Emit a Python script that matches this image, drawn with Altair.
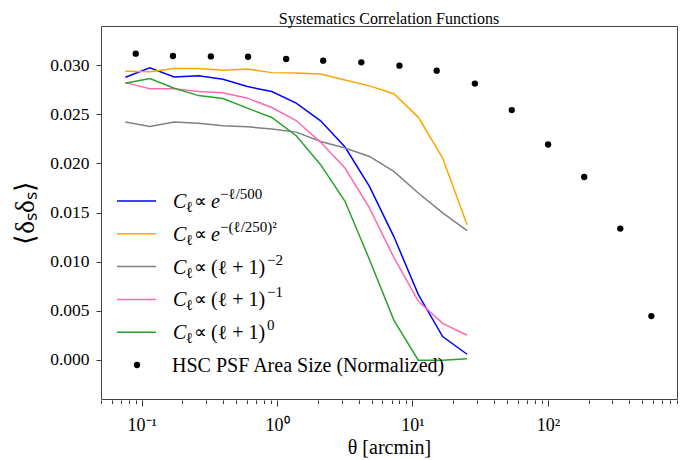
import altair as alt
import pandas as pd

# ---------------- data ----------------
theta_lines = [0.0757, 0.1147, 0.1737, 0.2630, 0.3984, 0.6033, 0.9138, 1.384,
               2.096, 3.175, 4.808, 7.284, 11.03, 16.71, 25.31]

series_keys = ["exp500", "gauss250", "pow2", "pow1", "pow0"]
series_colors = ["#0000ff", "#ffa500", "#808080", "#ff69b4", "#2ca02c"]

exp500 = [0.02878, 0.02973, 0.02881, 0.02894, 0.02858, 0.02783, 0.02732, 0.02614,
          0.02434, 0.02167, 0.01766, 0.01255, 0.00666, 0.00236, 0.00056]
gauss250 = [0.02940, 0.02935, 0.02966, 0.02966, 0.02950, 0.02962, 0.02925, 0.02922,
            0.02910, 0.02850, 0.02790, 0.02710, 0.02472, 0.02055, 0.01376]
pow2 = [0.02421, 0.02376, 0.02421, 0.02410, 0.02383, 0.02373, 0.02350, 0.02319,
        0.02224, 0.02157, 0.02071, 0.01919, 0.01699, 0.01496, 0.01316]
pow1 = [0.02823, 0.02762, 0.02762, 0.02732, 0.02719, 0.02665, 0.02570, 0.02437,
        0.02215, 0.01953, 0.01547, 0.01042, 0.00598, 0.00371, 0.00249]
pow0 = [0.02817, 0.02864, 0.02766, 0.02691, 0.02661, 0.02563, 0.02468, 0.02282,
        0.01987, 0.01614, 0.01021, 0.00404, -0.00005, -0.00005, 0.00010]
series_values = [exp500, gauss250, pow2, pow1, pow0]

theta_psf = [0.0903, 0.170, 0.324, 0.610, 1.166, 2.19, 4.19, 8.01, 15.1, 28.9,
             54.1, 100.5, 185.7, 343.0, 582.0]
psf_area = [0.03118, 0.03094, 0.03090, 0.03087, 0.03064, 0.03047, 0.03030, 0.02996,
            0.02945, 0.02813, 0.02543, 0.02193, 0.01862, 0.01336, 0.00445]

title_text = "Systematics Correlation Functions"
x_title = "θ [arcmin]"
y_title = "⟨δₛδₛ⟩"
major_ticks = [0.1, 1, 10, 100]
major_labels = ["10⁻¹", "10⁰", "10¹", "10²"]
minor_ticks = [0.05, 0.06, 0.07, 0.08, 0.09,
               0.2, 0.3, 0.4, 0.5, 0.6, 0.7, 0.8, 0.9,
               2, 3, 4, 5, 6, 7, 8, 9,
               20, 30, 40, 50, 60, 70, 80, 90,
               200, 300, 400, 500, 600, 700, 800, 900]
y_ticks = [0.0, 0.005, 0.010, 0.015, 0.020, 0.025, 0.030]

# legend label pieces: (base text, superscript text)
legend_base = ["e", "e", "(ℓ + 1)", "(ℓ + 1)", "(ℓ + 1)"]
legend_sup = ["−ℓ/500", "−(ℓ/250)²", "−2", "−1", "0"]
psf_label = "HSC PSF Area Size (Normalized)"

# ---------------- build tables ----------------
rows = []
for k, vals in zip(series_keys, series_values):
    for t, v in zip(theta_lines, vals):
        rows.append({"theta": t, "value": v, "series": k})
lines_df = pd.DataFrame(rows)
psf_df = pd.DataFrame({"theta": theta_psf, "value": psf_area})

W, H = 576, 373
SERIF = "Liberation Serif"
xscale = alt.Scale(type="log", domain=[0.05, 900], nice=False)
yscale = alt.Scale(domain=[-0.004, 0.034], nice=False, zero=False)

label_expr = "[" + ",".join("'" + s + "'" for s in major_labels) + "][round(log(datum.value)/LN10)+1]"

y_axis = alt.Axis(values=y_ticks, format=".3f", grid=False, domain=False,
                  tickSize=5, tickColor="#333", labelFontSize=17.5, labelFont=SERIF,
                  labelColor="black", labelPadding=7, title=y_title,
                  titleFont=SERIF, titleFontSize=27, titleFontWeight="normal",
                  titleColor="black", titlePadding=10)

lines = alt.Chart(lines_df).mark_line(strokeWidth=1.5, clip=True).encode(
    x=alt.X("theta:Q", scale=xscale,
            axis=alt.Axis(values=major_ticks, labelExpr=label_expr, grid=False,
                          domain=False, tickSize=6, tickColor="#333", offset=1,
                          labelFontSize=18, labelFont=SERIF, labelColor="black",
                          labelPadding=10, title=x_title, titleFont=SERIF,
                          titleFontSize=20, titleFontWeight="normal",
                          titleColor="black", titlePadding=3)),
    y=alt.Y("value:Q", scale=yscale, axis=y_axis),
    color=alt.Color("series:N", scale=alt.Scale(domain=series_keys, range=series_colors),
                    legend=None),
)

points = alt.Chart(psf_df).mark_circle(size=40, color="black", opacity=1, clip=True).encode(
    x=alt.X("theta:Q", scale=xscale,
            axis=alt.Axis(values=minor_ticks, labels=False, grid=False, domain=False,
                          tickSize=3.5, tickColor="#333", offset=1, title=None,
                          orient="bottom")),
    y=alt.Y("value:Q", scale=yscale, axis=y_axis),
)

# ---------------- hand-built legend (layout in pixels) ----------------
row0, dy_row = 175, 32.8
handle_df = pd.DataFrame({
    "x1": [16] * 5, "x2": [55] * 5,
    "y": [row0 + dy_row * i for i in range(5)],
    "series": series_keys,
})
handles = alt.Chart(handle_df).mark_rule(strokeWidth=1.5).encode(
    x=alt.X("x1:Q", scale=None), x2="x2:Q",
    y=alt.Y("y:Q", scale=None),
    color=alt.Color("series:N", scale=alt.Scale(domain=series_keys, range=series_colors),
                    legend=None),
)
dot_df = pd.DataFrame({"x": [36], "y": [row0 + dy_row * 5]})
leg_dot = alt.Chart(dot_df).mark_circle(size=40, color="black", opacity=1).encode(
    x=alt.X("x:Q", scale=None), y=alt.Y("y:Q", scale=None))

ital, upr, small, prop = [], [], [], []
for i in range(5):
    cy = row0 + dy_row * i
    ital.append({"t": "C", "x": 72, "y": cy + 7})
    small.append({"t": "ℓ", "x": 85, "y": cy + 11})
    prop.append({"t": "∝", "x": 93, "y": cy + 6})
    if legend_base[i] == "e":
        ital.append({"t": "e", "x": 110, "y": cy + 7})
        small.append({"t": legend_sup[i], "x": 119, "y": cy - 2})
    else:
        upr.append({"t": legend_base[i], "x": 110, "y": cy + 7})
        small.append({"t": legend_sup[i], "x": 166, "y": cy - 2})
upr.append({"t": psf_label, "x": 71, "y": row0 + dy_row * 5 + 7})


def txt(recs, size, style="normal"):
    return alt.Chart(pd.DataFrame(recs)).mark_text(
        align="left", baseline="alphabetic", font=SERIF, fontSize=size,
        fontStyle=style, color="black").encode(
        x=alt.X("x:Q", scale=None), y=alt.Y("y:Q", scale=None), text="t:N")


legend = txt(ital, 20, "italic") + txt(upr, 20) + txt(small, 15) + txt(prop, 18)

chart = alt.layer(lines, points, handles, leg_dot, legend).resolve_axis(
    x="independent"
).properties(
    width=W, height=H,
    title=alt.TitleParams(title_text, font=SERIF, fontSize=16, fontWeight="normal",
                          color="black", offset=0, dy=1),
    autosize=alt.AutoSizeParams(type="none"),
    padding={"left": 93, "top": 18, "right": 4, "bottom": 60},
).configure_view(stroke="#444", strokeWidth=1)

chart.save("out.html", embed_options={"renderer": "svg", "actions": False})
